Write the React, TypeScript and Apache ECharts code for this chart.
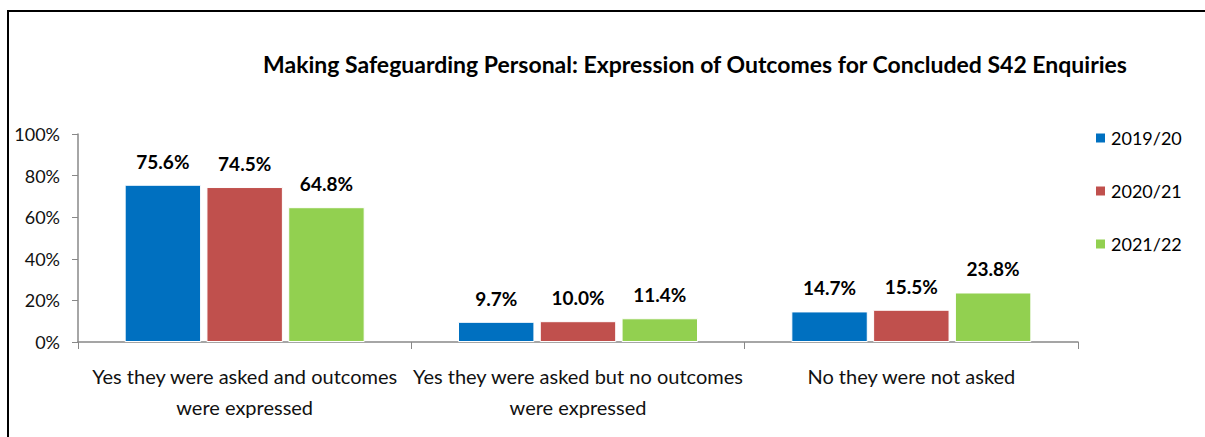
import React, { useEffect, useRef } from "react";
import * as echarts from "echarts";

const categories = [
  "Yes they were asked and outcomes\nwere expressed",
  "Yes they were asked but no outcomes\nwere expressed",
  "No they were not asked",
];
const seriesNames = ["2019/20", "2020/21", "2021/22"];
const values2019 = [75.6, 9.7, 14.7];
const values2020 = [74.5, 10.0, 15.5];
const values2021 = [64.8, 11.4, 23.8];
const colors = ["#0070C0", "#C0504D", "#92D050"];
const yTicks = [0, 20, 40, 60, 80, 100];

const FONT = "Lato, 'Noto Sans', sans-serif";

export default function App() {
  const ref = useRef<HTMLDivElement>(null);
  useEffect(() => {
    document.body.style.margin = "0";
    const chart = echarts.init(ref.current!, undefined, { renderer: "svg" });
    const data = [values2019, values2020, values2021];
    chart.setOption({
      animation: false,
      backgroundColor: "#fff",
      textStyle: { fontFamily: FONT },
      title: {
        text: "Making Safeguarding Personal: Expression of Outcomes for Concluded S42 Enquiries",
        left: 690,
        top: 47,
        textAlign: "center",
        textStyle: { fontSize: 23, fontWeight: "bold", color: "#000", fontFamily: FONT },
      },
      legend: {
        orient: "vertical",
        left: 1089,
        top: 124,
        itemGap: 35,
        itemWidth: 11,
        itemHeight: 11,
        icon: "rect",
        textStyle: { fontSize: 18, color: "#000", fontFamily: FONT, padding: [0, 0, 0, 0] },
        data: seriesNames,
      },
      graphic: [
        {
          type: "rect",
          shape: { x: 8, y: 11, width: 1300, height: 500 },
          style: { fill: "none", stroke: "#000", lineWidth: 2 },
        },
      ],
      grid: { left: 78, right: 127, top: 134, bottom: 95 },
      xAxis: {
        type: "category",
        data: categories,
        axisLine: { lineStyle: { color: "#888", width: 1.5 } },
        axisTick: { show: true, length: 7, lineStyle: { color: "#888" } },
        axisLabel: {
          interval: 0,
          fontSize: 20,
          color: "#111",
          lineHeight: 31,
          margin: 18,
          fontFamily: FONT,
        },
      },
      yAxis: {
        type: "value",
        min: 0,
        max: 100,
        interval: 20,
        splitLine: { show: false },
        axisLine: { show: true, lineStyle: { color: "#888", width: 1.5 } },
        axisTick: { show: true, length: 6, lineStyle: { color: "#888" } },
        axisLabel: {
          fontSize: 18,
          color: "#111",
          margin: 18,
          fontFamily: FONT,
          formatter: (v: number) => (yTicks.includes(v) ? v + "%" : ""),
        },
      },
      series: seriesNames.map((name, i) => ({
        name,
        type: "bar",
        data: data[i],
        barGap: "7%",
        barCategoryGap: "28%",
        itemStyle: { color: colors[i], borderColor: "#fff", borderWidth: 1 },
        label: {
          show: true,
          position: "top",
          distance: 14,
          fontSize: 19,
          fontWeight: "bold",
          color: "#000",
          fontFamily: FONT,
          formatter: (p: any) => p.value.toFixed(1) + "%",
        },
      })),
    });
    return () => chart.dispose();
  }, []);
  return <div ref={ref} style={{ width: 1205, height: 437 }} />;
}
